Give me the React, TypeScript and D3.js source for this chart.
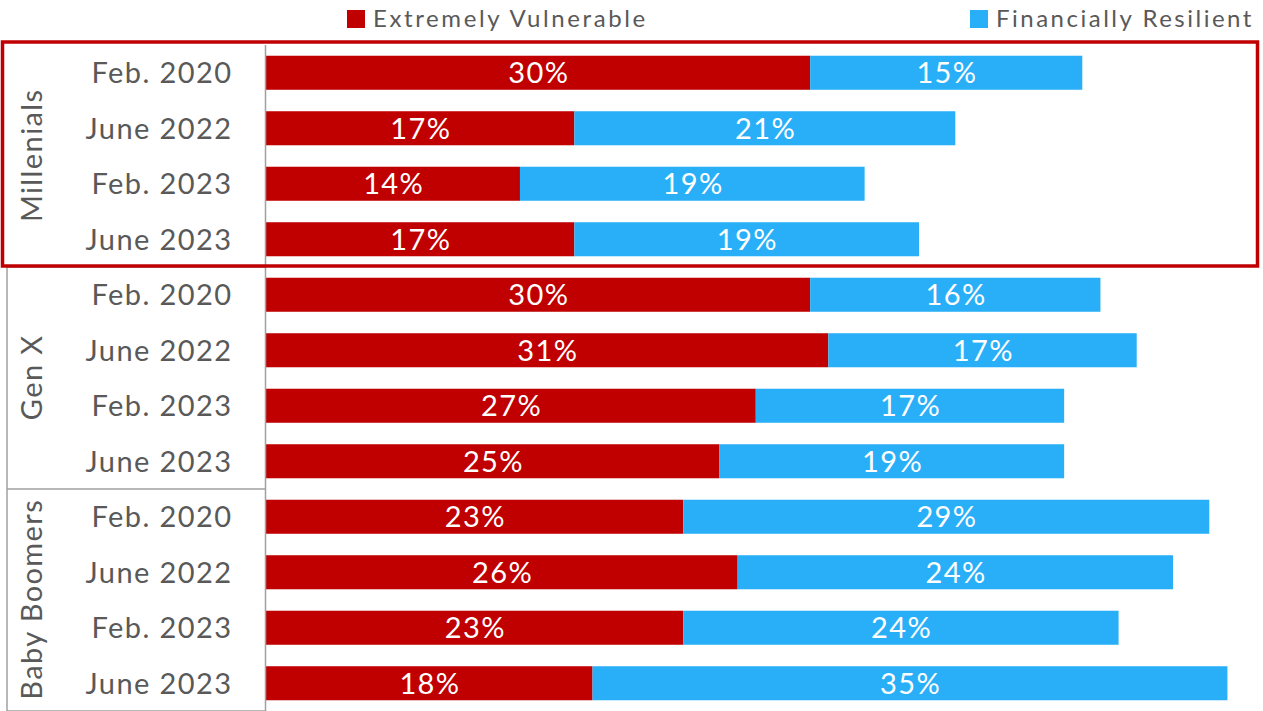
import React from "react";
import * as d3 from "d3";

const groups = ["Millenials", "Gen X", "Baby Boomers"];
const periods = ["Feb. 2020", "June 2022", "Feb. 2023", "June 2023"];
const vulnerable = [30, 17, 14, 17, 30, 31, 27, 25, 23, 26, 23, 18];
const resilient = [15, 21, 19, 19, 16, 17, 17, 19, 29, 24, 24, 35];
const seriesNames = ["Extremely Vulnerable", "Financially Resilient"];
const colors = ["#C00000", "#29AFF8"];

const W = 1263;
const H = 711;
const FONT = "Lato, 'Open Sans', sans-serif";

export default function App() {
  const rows = groups.flatMap((g, gi) => periods.map((p, pi) => ({ g, gi, p, i: gi * periods.length + pi })));
  const y = d3.scaleBand<number>().domain(rows.map((r) => r.i)).range([45, 711]).paddingInner(0.387).paddingOuter(0.1935);
  const x = d3.scaleLinear().domain([0, 60]).range([266, 266 + 60 * 18.14]);
  const gy = d3.scaleBand<number>().domain(groups.map((_, i) => i)).range([45, 711]);
  const fs = 29;
  const ls = 1.4;
  const fw = 400;
  return (
    <svg width={W} height={H} style={{ position: "absolute", left: 0, top: 0, display: "block" }} fontFamily={FONT} fontWeight={fw}>
      <rect x={0} y={0} width={W} height={H} fill="#fff" />
      {/* legend */}
      <rect x={347} y={10} width={18} height={18} fill={colors[0]} />
      <text x={373} y={27} fontSize={24} fill="#595959" letterSpacing={2.6}>{seriesNames[0]}</text>
      <rect x={970} y={10} width={18} height={18} fill={colors[1]} />
      <text x={996} y={27} fontSize={24} fill="#595959" letterSpacing={2.5}>{seriesNames[1]}</text>
      {/* bars */}
      {rows.map((r) => {
        const v = vulnerable[r.i];
        const f = resilient[r.i];
        const yy = y(r.i)!;
        const bh = y.bandwidth();
        const cy = yy + bh / 2;
        return (
          <g key={r.i}>
            <rect x={x(0)} y={yy} width={x(v) - x(0)} height={bh} fill={colors[0]} />
            <rect x={x(v)} y={yy} width={x(v + f) - x(v)} height={bh} fill={colors[1]} />
            <text x={(x(0) + x(v)) / 2 + ls / 2} y={cy} dy="0.36em" fontSize={fs} fill="#fff" textAnchor="middle" letterSpacing={ls}>{v}%</text>
            <text x={(x(v) + x(v + f)) / 2 + ls / 2} y={cy} dy="0.36em" fontSize={fs} fill="#fff" textAnchor="middle" letterSpacing={ls}>{f}%</text>
            <text x={231 + ls} y={cy} dy="0.36em" fontSize={fs} fill="#595959" textAnchor="end" letterSpacing={ls}>{r.p}</text>
          </g>
        );
      })}
      {/* group separators */}
      <line x1={265.5} x2={265.5} y1={45} y2={711} stroke="#a0a0a0" strokeWidth={1.5} />
      {groups.map((g, gi) => {
        const gTop = gy(gi)!;
        const gb = gy.bandwidth();
        return (
          <g key={g}>
            <line x1={7} x2={266} y1={gTop + gb} y2={gTop + gb} stroke="#a0a0a0" strokeWidth={1.5} />
            <text transform={`translate(${32},${gTop + gb / 2 - ls / 2}) rotate(-90)`} dy="0.36em" fontSize={fs} fill="#595959" textAnchor="middle" letterSpacing={ls}>{g}</text>
          </g>
        );
      })}
      <line x1={7} x2={7} y1={267} y2={711} stroke="#a0a0a0" strokeWidth={1.5} />
      {/* highlight box */}
      <rect x={2.5} y={42} width={1255} height={224} fill="none" stroke="#C00000" strokeWidth={3.5} />
    </svg>
  );
}
